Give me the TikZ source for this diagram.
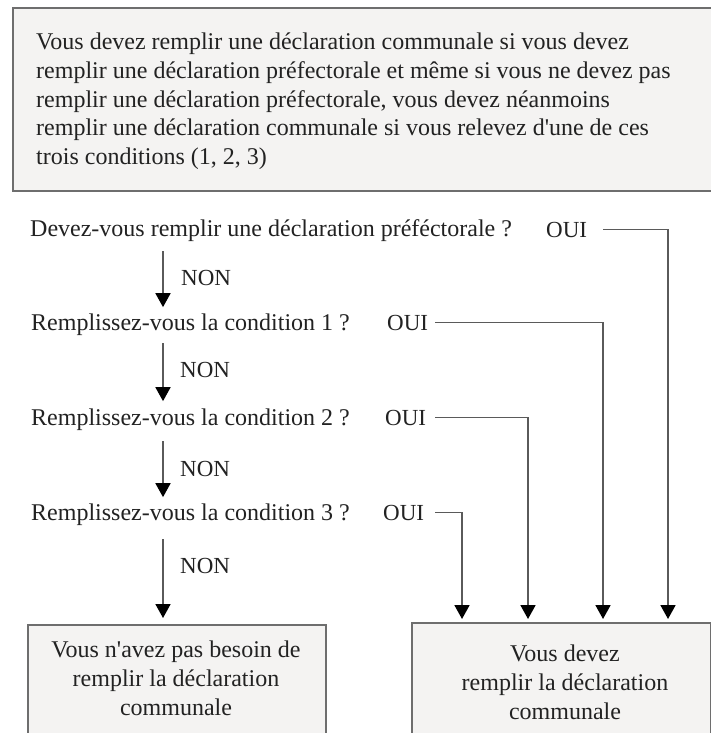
\documentclass[tikz,border=0pt]{standalone}
\usepackage{fontspec}
\newfontfamily\lsf{Liberation Serif}
\usetikzlibrary{arrows.meta,calc}
\definecolor{boxfill}{HTML}{F4F3F2}
\definecolor{boxline}{HTML}{6E6E6E}
\definecolor{conn}{HTML}{5A5A5A}
\definecolor{txt}{HTML}{222222}
\begin{document}
\begin{tikzpicture}[x=1pt,y=-1pt,
  font=\lsf\fontsize{24}{28.7}\selectfont, text=txt,
  box/.style={draw=boxline, line width=2pt, fill=boxfill, inner sep=0pt, anchor=north west},
  lbl/.style={inner sep=0pt, anchor=base west},
  short/.style={lbl, font=\lsf\fontsize{23}{28.7}\selectfont},
  arr/.style={draw=conn, line width=1.8pt, -{Triangle[width=15pt,length=14pt,color=black,fill=black]}}]
\clip (0,0) rectangle (711,733);
\fill[white] (0,0) rectangle (711,733);
% top explanatory box
\node[box, minimum width=720pt, minimum height=183pt] (tb) at (12,7) {};
\node[inner sep=0pt, anchor=north west, align=left] (tt) at (36,33) {Vous devez remplir une déclaration communale si vous devez\\remplir une déclaration préfectorale et même si vous ne devez pas\\remplir une déclaration préfectorale, vous devez néanmoins\\remplir une déclaration communale si vous relevez d'une de ces\\trois conditions (1, 2, 3)};
% questions
\node[lbl] (q0) at (30,236) {Devez-vous remplir une déclaration préféctorale ?};
\node[lbl] (q1) at (31,330) {Remplissez-vous la condition 1 ?};
\node[lbl] (q2) at (31,425) {Remplissez-vous la condition 2 ?};
\node[lbl] (q3) at (31,520) {Remplissez-vous la condition 3 ?};
% OUI labels
\node[short] (o0) at (546,237) {OUI};
\node[short] (o1) at (387,330) {OUI};
\node[short] (o2) at (385,425) {OUI};
\node[short] (o3) at (383,520) {OUI};
% NON labels
\node[short] (n0) at (181,285) {NON};
\node[short] (n1) at (180,377) {NON};
\node[short] (n2) at (180,476) {NON};
\node[short] (n3) at (180,573) {NON};
% result boxes
\node[box, minimum width=298pt, minimum height=150pt] (b1) at (27,624) {};
\node[inner sep=0pt, anchor=north, align=center] (t1) at (176,641) {Vous n'avez pas besoin de\\remplir la déclaration\\communale};
\node[box, minimum width=299pt, minimum height=150pt] (b2) at (411,622) {};
\node[inner sep=0pt, anchor=north, align=center] (t2) at (565,645) {Vous devez\\remplir la déclaration\\communale};
% column coordinates
\coordinate (ax) at (163,0);
\coordinate (sx) at (435,0);
\coordinate (r0) at (668,0);
\coordinate (r1) at (603,0);
\coordinate (r2) at (528,0);
\coordinate (r3) at (462,0);
% NON arrows
\draw[arr, shorten <=10pt, shorten >=6pt] (q0.south -| ax) -- (q1.north -| ax);
\draw[arr, shorten <=8pt, shorten >=7pt] (q1.south -| ax) -- (q2.north -| ax);
\draw[arr, shorten <=11pt, shorten >=6pt] (q2.south -| ax) -- (q3.north -| ax);
\draw[arr, shorten <=14pt, shorten >=6pt] (q3.south -| ax) -- (b1.north -| ax);
% OUI connectors
\draw[arr, shorten >=3pt] ([xshift=16pt]o0.east) -| (b2.north -| r0);
\draw[arr, shorten >=3pt] (o1.east -| sx) -| (b2.north -| r1);
\draw[arr, shorten >=3pt] (o2.east -| sx) -| (b2.north -| r2);
\draw[arr, shorten >=3pt] (o3.east -| sx) -| (b2.north -| r3);
\end{tikzpicture}
\end{document}
